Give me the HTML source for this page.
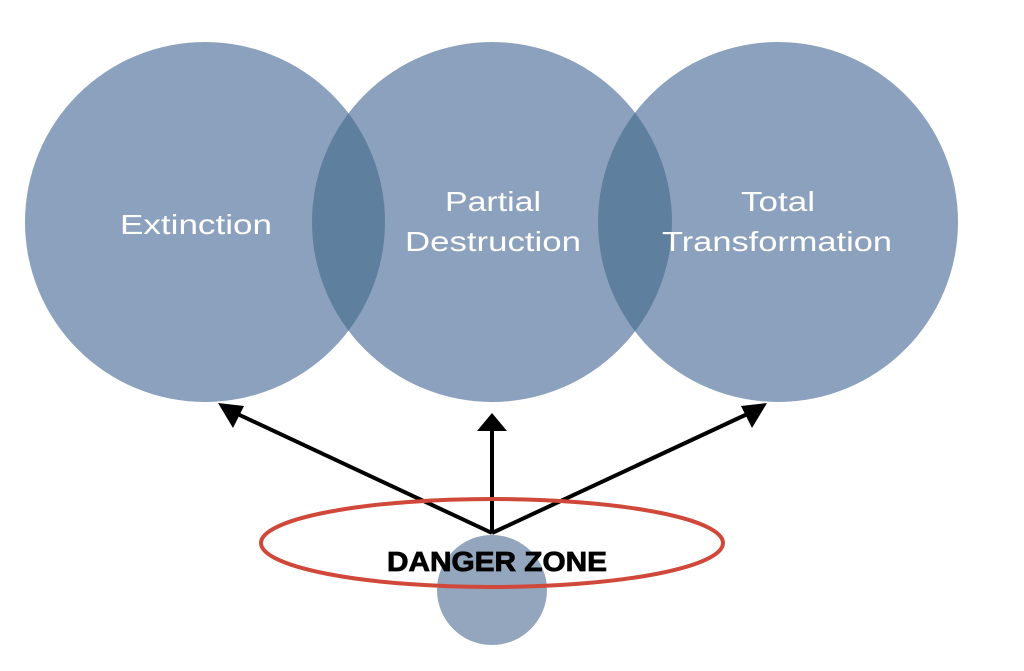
<!DOCTYPE html>
<html><head><meta charset="utf-8"><style>html,body{margin:0;padding:0;background:#fff}svg{display:block}</style></head>
<body>
<svg width="1024" height="671" viewBox="0 0 1024 671" xmlns="http://www.w3.org/2000/svg">
<defs>
<clipPath id="cl"><circle cx="205" cy="222" r="180"/></clipPath>
<clipPath id="cr"><circle cx="778" cy="222" r="180"/></clipPath>
</defs>
<circle cx="205" cy="222" r="180" fill="#8ba1bd"/>
<circle cx="492" cy="222" r="180" fill="#8ba1bd"/>
<circle cx="778" cy="222" r="180" fill="#8ba1bd"/>
<circle cx="492" cy="222" r="180" fill="#5f7f9e" clip-path="url(#cl)"/>
<circle cx="492" cy="222" r="180" fill="#5f7f9e" clip-path="url(#cr)"/>
<g fill="#fff" font-family="Liberation Sans, sans-serif" font-size="28" text-anchor="middle" lengthAdjust="spacingAndGlyphs">
<text x="196" y="234" textLength="152" lengthAdjust="spacingAndGlyphs">Extinction</text>
<text x="493" y="211" textLength="96" lengthAdjust="spacingAndGlyphs">Partial</text>
<text x="493" y="251" textLength="176" lengthAdjust="spacingAndGlyphs">Destruction</text>
<text x="778" y="211" textLength="74" lengthAdjust="spacingAndGlyphs">Total</text>
<text x="777" y="251" textLength="230" lengthAdjust="spacingAndGlyphs">Transformation</text>
</g>
<circle cx="492" cy="590" r="55" fill="#93a6bd"/>
<g stroke="#000" stroke-width="4" fill="none">
<line x1="492" y1="533" x2="229" y2="410"/>
<line x1="492" y1="533" x2="492" y2="428"/>
<line x1="492" y1="533" x2="756" y2="410"/>
</g>
<g fill="#000">
<polygon points="218,403 244,406 233,428"/>
<polygon points="492,413 507,431 477,431"/>
<polygon points="767,403 741,406 752,428"/>
</g>
<ellipse cx="492" cy="543" rx="231" ry="44" fill="none" stroke="#d0483a" stroke-width="4"/>
<text x="497" y="571" font-family="Liberation Sans, sans-serif" font-weight="bold" font-size="28" stroke="#000" stroke-width="0.8" text-anchor="middle" textLength="220" lengthAdjust="spacingAndGlyphs" fill="#000">DANGER ZONE</text>
</svg>
</body></html>
